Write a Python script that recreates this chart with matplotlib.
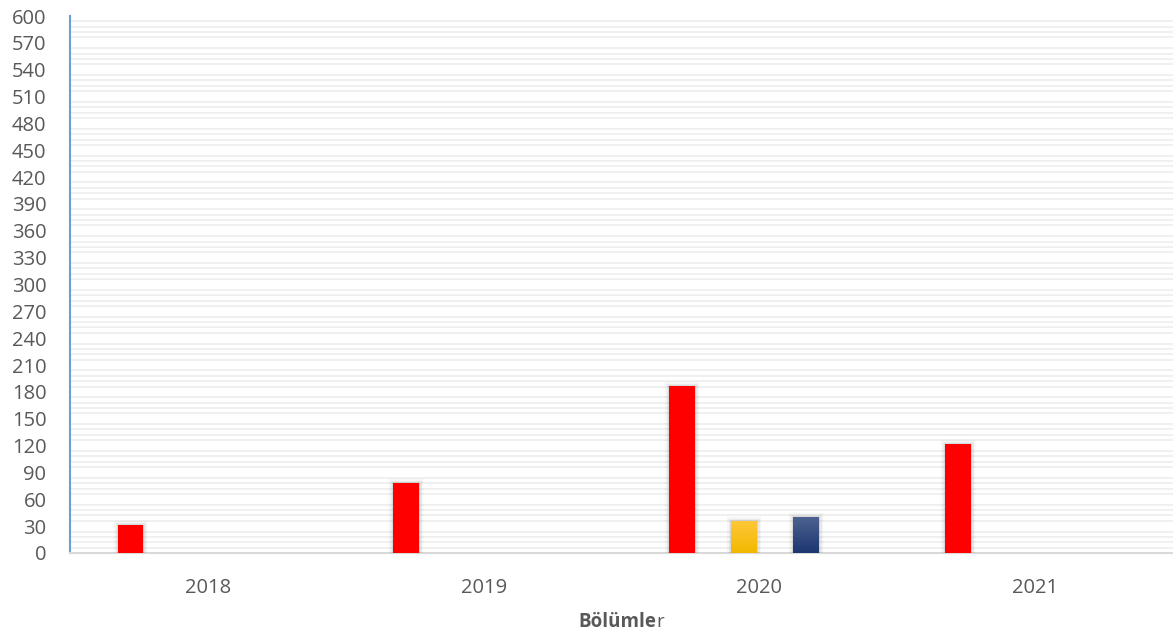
import numpy as np
import matplotlib
matplotlib.use("Agg")
import matplotlib.pyplot as plt
import matplotlib.patheffects as pe
from matplotlib.offsetbox import TextArea, HPacker, AnchoredOffsetbox
from matplotlib.colors import LinearSegmentedColormap

plt.rcParams['font.family'] = ['Open Sans', 'DejaVu Sans']

categories = ['2018', '2019', '2020', '2021']
series_red = [31, 78, 187, 122]
series_yellow = [0, 0, 36, 0]
series_blue = [0, 0, 40, 0]
y_ticks = list(range(0, 601, 30))

series = [
    (series_red, ('#FF0000', '#FF0000')),
    (series_yellow, ('#FFC83A', '#F2B800')),
    (series_blue, ('#4D6290', '#1C3670')),
]

fig = plt.figure(figsize=(11.73, 6.37), dpi=100)
ax = fig.add_axes([70/1173, 84/637, 1103/1173, 537/637])

x = np.arange(len(categories))
spacing = 0.2246
width = 0.093
shadow = [pe.Stroke(linewidth=6, foreground='#000000', alpha=0.035),
          pe.Stroke(linewidth=3.5, foreground='#000000', alpha=0.05),
          pe.Stroke(linewidth=1.5, foreground='#000000', alpha=0.06),
          pe.Normal()]

for i, (vals, (ctop, cbot)) in enumerate(series):
    pos = x + (i - 1.25) * spacing
    for xp, v in zip(pos, vals):
        if v <= 0:
            continue
        bar = ax.bar(xp, v, width=width, color=cbot, linewidth=0, zorder=3)[0]
        bar.set_path_effects(shadow)
        if ctop != cbot:
            cmap = LinearSegmentedColormap.from_list('g', [cbot, ctop])
            grad = np.linspace(0, 1, 100).reshape(-1, 1)
            im = ax.imshow(grad, cmap=cmap, origin='lower', aspect='auto',
                           extent=[xp - width/2, xp + width/2, 0, v], zorder=4)
            im.set_clip_path(bar)

ax.set_xlim(-0.5, len(categories) - 0.5)
ax.set_ylim(0, 600)
ax.set_yticks(y_ticks)
ax.set_xticks(x)
ax.set_xticklabels(categories)
minor = [m for m in range(0, 601, 6) if m % 30 != 0]
ax.set_yticks(minor, minor=True)
ax.yaxis.grid(True, which='minor', color='#F0F0F0', linewidth=1.4, zorder=0)
ax.set_axisbelow(True)

for s in ['top', 'right']:
    ax.spines[s].set_visible(False)
ax.spines['left'].set_color('#6A9ED6')
ax.spines['left'].set_linewidth(1.5)
ax.spines['bottom'].set_color('#D9D9D9')
ax.spines['bottom'].set_linewidth(1.5)

ax.tick_params(axis='both', which='both', length=0, labelsize=14.5, labelcolor='#595959')
ax.tick_params(axis='y', pad=17)
ax.tick_params(axis='x', pad=18)

t1 = TextArea('Bölümle', textprops=dict(fontsize=13.5, fontweight='bold', color='#595959'))
t2 = TextArea('r', textprops=dict(fontsize=13.5, color='#595959'))
box = HPacker(children=[t1, t2], align='baseline', pad=0, sep=0)
anch = AnchoredOffsetbox(loc='center', child=box, frameon=False,
                         bbox_to_anchor=(0.5, -0.128), bbox_transform=ax.transAxes,
                         borderpad=0, pad=0)
ax.add_artist(anch)

fig.savefig('out.png', dpi=100)
